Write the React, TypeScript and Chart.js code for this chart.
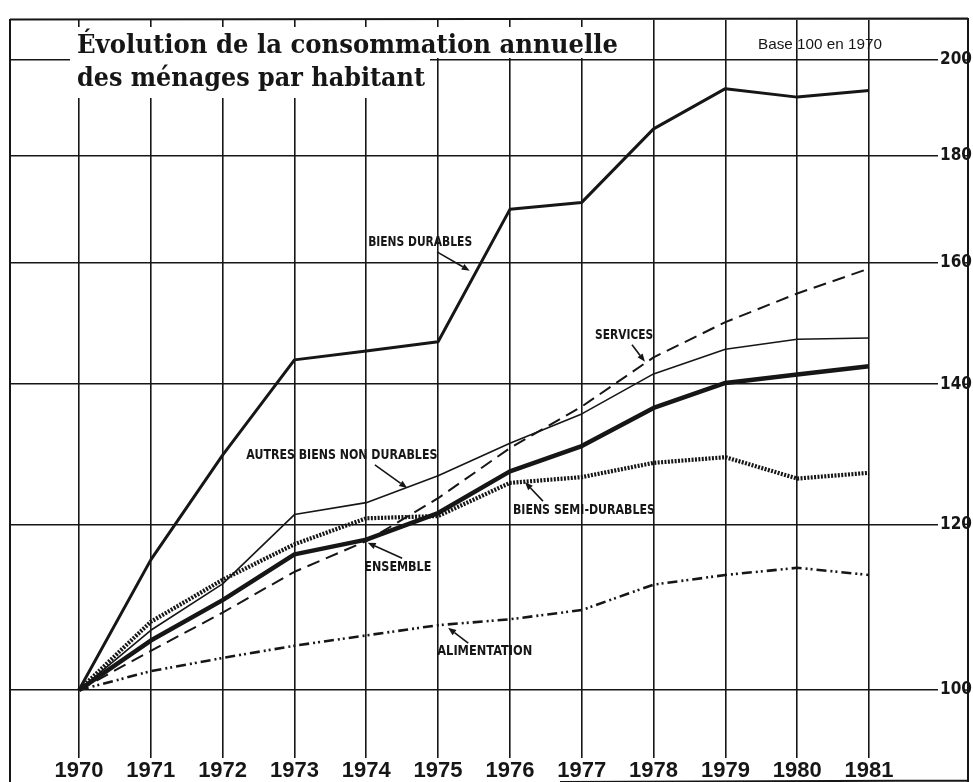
import React, { useEffect, useRef } from "react";
import { Chart, registerables } from "chart.js";

Chart.register(...registerables);

// ---------- data (index 100 in 1970) ----------
const years = [1970, 1971, 1972, 1973, 1974, 1975, 1976, 1977, 1978, 1979, 1980, 1981];
const biensDurables = [100, 115.4, 129.5, 143.8, 145.2, 146.7, 169.7, 171.0, 185.4, 193.8, 192.0, 193.4];
const services = [100, 104.4, 108.9, 113.9, 117.8, 123.5, 130.5, 136.6, 144.2, 149.9, 154.7, 159.0];
const autresNonDurables = [100, 106.8, 112.4, 121.3, 122.9, 126.6, 131.2, 135.5, 141.6, 145.5, 147.1, 147.3];
const ensemble = [100, 105.6, 110.4, 116.1, 118.0, 121.5, 127.2, 130.8, 136.4, 140.2, 141.5, 142.8];
const semiDurables = [100, 107.8, 112.9, 117.4, 120.8, 121.1, 125.6, 126.4, 128.4, 129.2, 126.2, 127.0];
const alimentation = [100, 102.1, 103.6, 105.0, 106.2, 107.4, 108.1, 109.2, 112.3, 113.5, 114.4, 113.5];

const yTickValues = [100, 120, 140, 160, 180, 200];
const xTickValues = years;

const titleLine1 = "Évolution de la consommation annuelle";
const titleLine2 = "des ménages par habitant";
const baseNote = "Base 100 en 1970";

// labels with arrows, anchored in data space: [year, value]
const noteTexts = [
  "BIENS DURABLES",
  "SERVICES",
  "AUTRES BIENS NON DURABLES",
  "ENSEMBLE",
  "BIENS SEMI-DURABLES",
  "ALIMENTATION",
];
const noteAnchors = [
  [1974.75, 163.6],
  [1977.59, 147.8],
  [1973.66, 129.5],
  [1974.44, 114.4],
  [1977.03, 121.9],
  [1975.65, 104.3],
];
const noteArrowFrom = [
  [1974.985, 161.95],
  [1977.7, 146.2],
  [1974.12, 128.1],
  [1974.5, 115.6],
  [1976.46, 123.1],
  [1975.42, 105.3],
];
const noteArrowTo = [
  [1975.44, 158.6],
  [1977.88, 143.5],
  [1974.57, 124.9],
  [1974.02, 117.6],
  [1976.21, 125.7],
  [1975.14, 107.1],
];

// ---------- styles ----------
const INK = "#161616";
const NOTE_WIDTHS = [104, 58, 191, 67, 142, 95];
const NARROW = '"Liberation Sans Narrow", "DejaVu Sans Condensed", "Liberation Sans", sans-serif';

function fitText(
  ctx: CanvasRenderingContext2D,
  text: string,
  left: number,
  y: number,
  width: number,
  font: string,
  baseline: CanvasTextBaseline
) {
  ctx.save();
  ctx.font = font;
  const w = ctx.measureText(text).width || 1;
  ctx.translate(left, y);
  ctx.scale(width / w, 1);
  ctx.textAlign = "left";
  ctx.textBaseline = baseline;
  ctx.fillText(text, 0, 0);
  ctx.restore();
}

function arrow(ctx: CanvasRenderingContext2D, x1: number, y1: number, x2: number, y2: number) {
  const ang = Math.atan2(y2 - y1, x2 - x1);
  const len = 8;
  const hw = 3.2;
  const bx = x2 - Math.cos(ang) * len;
  const by = y2 - Math.sin(ang) * len;
  ctx.beginPath();
  ctx.moveTo(x1, y1);
  ctx.lineTo(bx, by);
  ctx.lineWidth = 1.6;
  ctx.stroke();
  ctx.beginPath();
  ctx.moveTo(x2, y2);
  ctx.lineTo(bx - Math.sin(ang) * hw, by + Math.cos(ang) * hw);
  ctx.lineTo(bx + Math.sin(ang) * hw, by - Math.cos(ang) * hw);
  ctx.closePath();
  ctx.fill();
}

const decorPlugin = {
  id: "decor",
  afterDraw(chart: any) {
    const ctx: CanvasRenderingContext2D = chart.ctx;
    const xs = chart.scales.x;
    const ys = chart.scales.y;
    const area = chart.chartArea;
    ctx.save();
    ctx.strokeStyle = INK;
    ctx.fillStyle = INK;

    // frame
    ctx.lineWidth = 2;
    ctx.beginPath();
    ctx.moveTo(area.left, area.top - 0.5);
    ctx.lineTo(968, area.top - 1.5);
    ctx.moveTo(area.left, area.top - 1);
    ctx.lineTo(area.left, 782);
    ctx.moveTo(968, area.top - 2);
    ctx.lineTo(968, 782);
    ctx.moveTo(560, 782);
    ctx.lineTo(968, 780.5);
    ctx.stroke();

    // little ticks right of the value labels
    ctx.lineWidth = 1.5;
    yTickValues.forEach((v) => {
      const y = ys.getPixelForValue(v);
      ctx.beginPath();
      ctx.moveTo(963, y);
      ctx.lineTo(968, y);
      ctx.stroke();
    });

    // white boxes behind the title
    ctx.fillStyle = "#ffffff";
    ctx.fillRect(70, 27, 560, 31);
    ctx.fillRect(70, 58, 360, 40);

    // title
    ctx.fillStyle = INK;
    fitText(ctx, titleLine1, 77, 53, 541, 'bold 26px "DejaVu Serif", "Liberation Serif", serif', "alphabetic");
    fitText(ctx, titleLine2, 77, 86, 348, 'bold 26px "DejaVu Serif", "Liberation Serif", serif', "alphabetic");

    // base note
    fitText(ctx, baseNote, 758, 45, 124, '15px "Liberation Sans", sans-serif', "middle");

    // series notes with arrows
    noteTexts.forEach((t, i) => {
      const cx = xs.getPixelForValue(noteAnchors[i][0]);
      const cy = ys.getPixelForValue(noteAnchors[i][1]);
      const w = NOTE_WIDTHS[i];
      fitText(ctx, t, cx - w / 2, cy, w, `bold 14px ${NARROW}`, "middle");
      arrow(
        ctx,
        xs.getPixelForValue(noteArrowFrom[i][0]),
        ys.getPixelForValue(noteArrowFrom[i][1]),
        xs.getPixelForValue(noteArrowTo[i][0]),
        ys.getPixelForValue(noteArrowTo[i][1])
      );
    });
    ctx.restore();
  },
};

function pts(values: number[]) {
  return years.map((yr, i) => ({ x: yr, y: values[i] }));
}

export default function App() {
  const canvasRef = useRef<HTMLCanvasElement | null>(null);

  useEffect(() => {
    if (!canvasRef.current) return;
    const common = {
      pointRadius: 0,
      pointHoverRadius: 0,
      tension: 0,
      fill: false,
      borderColor: INK,
      borderCapStyle: "butt" as const,
      borderJoinStyle: "round" as const,
    };
    const chart = new Chart(canvasRef.current, {
      type: "line",
      data: {
        datasets: [
          { ...common, label: "Alimentation", data: pts(alimentation), borderWidth: 2.6, borderDash: [10, 4, 2, 3, 2, 4] },
          { ...common, label: "Services", data: pts(services), borderWidth: 2, borderDash: [13, 7] },
          { ...common, label: "Autres biens non durables", data: pts(autresNonDurables), borderWidth: 1.6 },
          { ...common, label: "Biens semi-durables", data: pts(semiDurables), borderWidth: 4.2, borderDash: [2, 1.4] },
          { ...common, label: "Ensemble", data: pts(ensemble), borderWidth: 4.5 },
          { ...common, label: "Biens durables", data: pts(biensDurables), borderWidth: 3 },
        ],
      },
      options: {
        responsive: false,
        animation: false,
        devicePixelRatio: 1,
        layout: { padding: { left: 10, top: 20, right: 0, bottom: 0 } },
        plugins: {
          legend: { display: false },
          tooltip: { enabled: false },
          title: { display: false },
        },
        events: [],
        scales: {
          x: {
            type: "linear",
            position: "bottom",
            min: 1969.04,
            max: 1981.96,
            afterBuildTicks: (axis: any) => {
              axis.ticks = xTickValues.map((v) => ({ value: v }));
            },
            afterFit: (axis: any) => {
              axis.height = 24;
            },
            grid: { color: INK, lineWidth: 1.6, drawTicks: false },
            border: { display: false },
            ticks: {
              autoSkip: false,
              maxRotation: 0,
              padding: 0,
              color: INK,
              font: { family: '"Liberation Sans", Arial, sans-serif', weight: "bold", size: 22 },
              callback: (v: any) => String(v),
            },
          },
          y: {
            type: "logarithmic",
            position: "right",
            min: 92.8,
            max: 209,
            afterBuildTicks: (axis: any) => {
              axis.ticks = yTickValues.map((v) => ({ value: v }));
            },
            afterFit: (axis: any) => {
              axis.width = 35;
            },
            grid: { color: INK, lineWidth: 1.6, drawTicks: false },
            border: { display: false },
            ticks: {
              padding: 2,
              color: INK,
              font: { family: NARROW, weight: "bold", size: 17 },
              callback: (v: any) => String(v),
            },
          },
        },
      },
      plugins: [decorPlugin],
    } as any);
    return () => chart.destroy();
  }, []);

  return (
    <div style={{ position: "absolute", left: 0, top: 0, width: 973, height: 782, background: "#ffffff" }}>
      <canvas ref={canvasRef} width={973} height={782} style={{ display: "block", width: 973, height: 782 }} />
    </div>
  );
}
